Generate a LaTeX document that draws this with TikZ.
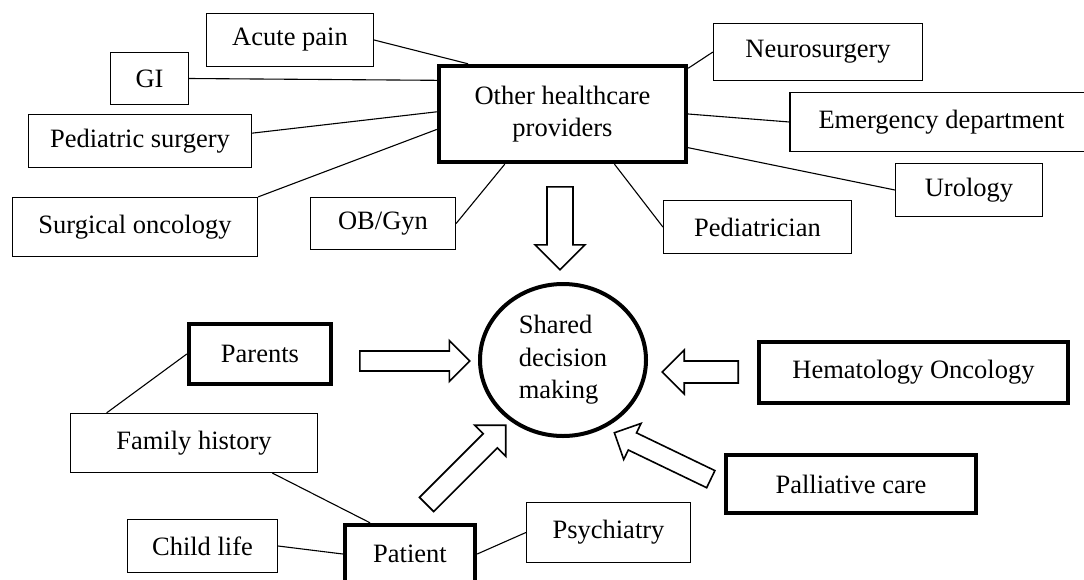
\documentclass[tikz,border=0pt]{standalone}
\usepackage{fontspec}
\setmainfont{Liberation Serif}
\usetikzlibrary{shapes}

\begin{document}
\begin{tikzpicture}[x=1pt, y=-1pt, font=\fontsize{26.5}{32.5}\selectfont,
    box/.style={draw, line width=1.2pt, inner sep=0pt},
    bigbox/.style={draw, line width=4.4pt, inner sep=0pt},
    blockarrow/.style={draw, single arrow, line width=1.6pt, inner xsep=0pt, anchor=tail},
    link/.style={line width=1.1pt}]
    \useasboundingbox (0,0) rectangle (1084,579);

    \node[bigbox, minimum width=247pt, minimum height=96pt, align=center] (other) at (562.5,114) {Other healthcare\\providers};
    \node[box, minimum width=167pt, minimum height=53pt] (acute) at (290,40) {Acute pain};
    \node[box, minimum width=78pt, minimum height=52pt] (gi) at (149.5,78.5) {GI};
    \node[box, minimum width=223pt, minimum height=53pt] (pedsurg) at (140,141) {Pediatric surgery};
    \node[box, minimum width=245pt, minimum height=59pt] (surgonc) at (135,227) {Surgical oncology};
    \node[box, minimum width=145pt, minimum height=52pt] (obgyn) at (383,223.5) {OB/Gyn};
    \node[box, minimum width=209pt, minimum height=57pt] (neuro) at (818,52) {Neurosurgery};
    \node[box, minimum width=303pt, minimum height=59pt] (emerg) at (941.5,122) {Emergency department};
    \node[box, minimum width=147pt, minimum height=53pt] (urology) at (969,190) {Urology};
    \node[box, minimum width=188pt, minimum height=53pt] (pediatrician) at (757.5,227) {Pediatrician};

    \node[draw, ellipse, line width=4pt, minimum width=166pt, minimum height=152pt, inner sep=0pt, align=left] (shared) at (563,360) {Shared\\decision\\making};

    \node[bigbox, minimum width=142pt, minimum height=60pt] (parents) at (260,354) {Parents};
    \node[bigbox, minimum width=309pt, minimum height=61pt] (hemonc) at (913.5,372.5) {Hematology Oncology};
    \node[bigbox, minimum width=250pt, minimum height=58pt] (palliative) at (851,484) {Palliative care};
    \node[bigbox, minimum width=130pt, minimum height=58pt] (patient) at (410,554) {Patient};
    \node[box, minimum width=247pt, minimum height=59pt] (fhist) at (194,443) {Family history};
    \node[box, minimum width=150pt, minimum height=53pt] (childlife) at (202.5,546) {Child life};
    \node[box, minimum width=164pt, minimum height=60pt] (psych) at (608.5,532.5) {Psychiatry};

    \node[blockarrow, minimum height=83pt, inner ysep=12.2pt, single arrow head extend=12pt, rotate=-90] (otherarrow) at (560,186) {};
    \node[blockarrow, minimum height=110pt, inner ysep=9.2pt, single arrow head extend=10.5pt] (parentsarrow) at (359,361) {};
    \node[blockarrow, minimum height=76pt, inner ysep=10.2pt, single arrow head extend=11pt, rotate=180] (hemoncarrow) at (739,372) {};
    \node[blockarrow, minimum height=112pt, inner ysep=9.2pt, single arrow head extend=12pt, rotate=45] (patientarrow) at (426,505) {};
    \node[blockarrow, minimum height=107pt, inner ysep=8.7pt, single arrow head extend=10.5pt, rotate=154.3] (palliativearrow) at (711.5,479.5) {};

    \draw[link] (acute.east) -- (other.152);
    \draw[link] (gi.east) -- (other.165);
    \draw[link] (pedsurg.4) -- (other.179);
    \draw[link] (surgonc.north east) -- (other.187);
    \draw[link] (obgyn.east) -- (other.221);
    \draw[link] (neuro.west) -- (other.20);
    \draw[link] (emerg.west) -- (other.east);
    \draw[link] (urology.west) -- (other.-15);
    \draw[link] (pediatrician.west) -- (other.-44);
    \draw[link] (parents.west) -- (fhist.161);
    \draw[link] (fhist.-21) -- (patient.142);
    \draw[link] (childlife.east) -- (patient.west);
    \draw[link] (patient.east) -- (psych.west);
\end{tikzpicture}
\end{document}
